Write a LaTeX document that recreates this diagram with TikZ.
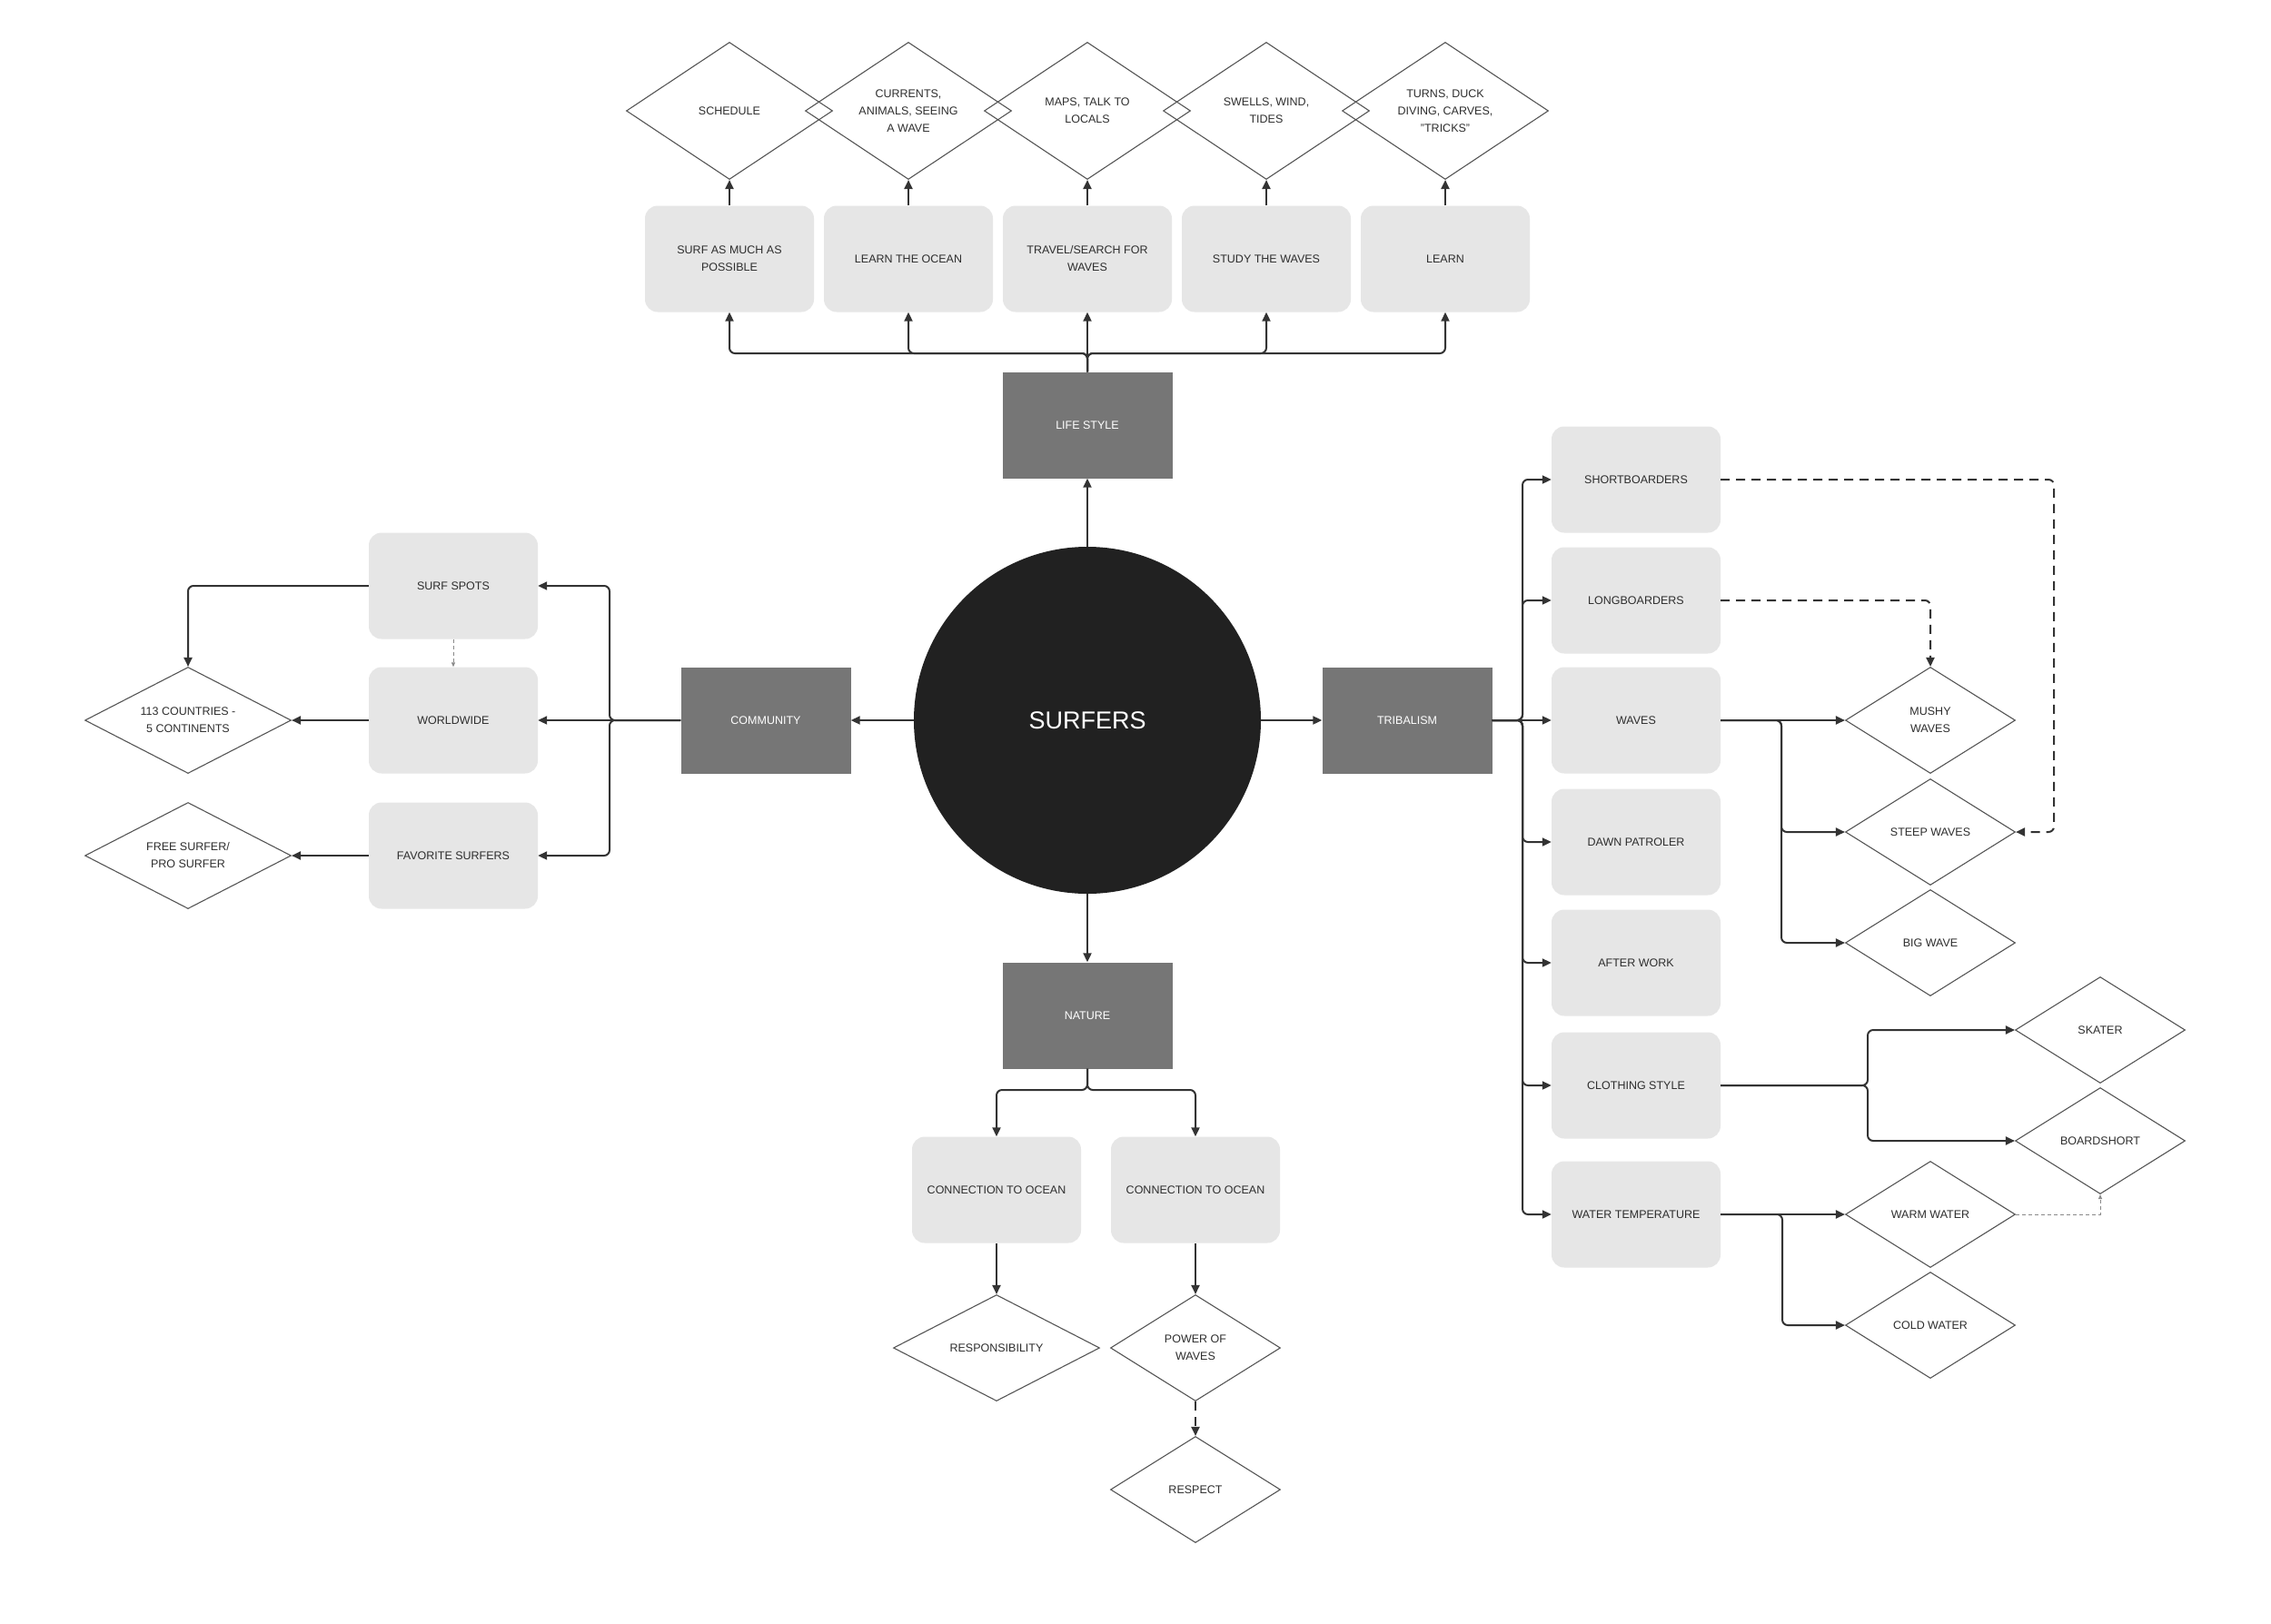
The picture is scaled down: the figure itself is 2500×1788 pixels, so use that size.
\documentclass[tikz,border=0pt]{standalone}
\usepackage{fontspec}
\setmainfont{Liberation Sans}
\usetikzlibrary{shapes.geometric,arrows.meta}
\definecolor{boxgray}{HTML}{E6E6E6}
\definecolor{darkbox}{HTML}{767676}
\definecolor{corefill}{HTML}{212121}
\definecolor{lc}{HTML}{333333}
\definecolor{txt}{HTML}{2E2E2E}
\definecolor{dl}{HTML}{555555}
\definecolor{thg}{HTML}{8A8A8A}
\newcommand{\lblfont}{\fontsize{12.5}{19}\selectfont}
\tikzset{
  lbox/.style={rectangle, rounded corners=14pt, fill=boxgray, minimum width=186pt, minimum height=117pt, inner sep=2pt, align=center, font=\lblfont, text=txt},
  dbox/.style={rectangle, fill=darkbox, minimum width=187pt, minimum height=117pt, inner sep=2pt, align=center, font=\lblfont, text=white},
  dia/.style={diamond, draw=dl, line width=1.1pt, aspect=1.6, minimum width=187pt, minimum height=117pt, inner sep=0pt, align=center, font=\lblfont, text=txt},
  widedia/.style={dia, aspect=1.94, minimum width=227pt},
  topdia/.style={dia, aspect=1.5, minimum width=227pt, minimum height=151pt},
  corenode/.style={circle, fill=corefill, minimum size=382pt, inner sep=0pt, text=white, font=\fontsize{27}{32}\selectfont},
  conn/.style={draw=lc, line width=2pt, rounded corners=6pt, -{Triangle[length=10pt,width=9pt]}},
  dconn/.style={conn, dash pattern=on 10pt off 7pt},
  thinconn/.style={draw=thg, line width=1pt, dash pattern=on 4pt off 3pt, -{Triangle[length=5pt,width=4pt]}},
}
\begin{document}
\begin{tikzpicture}[x=1pt,y=-1pt]
\path[use as bounding box, fill=white] (0,0) rectangle (2500,1788);

% center and main categories
\node[corenode] (sf) at (1197,793) {SURFERS};
\node[dbox] (ls) at (1197,468) {LIFE STYLE};
\node[dbox] (com) at (843,793) {COMMUNITY};
\node[dbox] (tr) at (1549,793) {TRIBALISM};
\node[dbox] (nat) at (1197,1118) {NATURE};

% top
\node[lbox] (t1) at (803,285) {SURF AS MUCH AS\\POSSIBLE};
\node[lbox] (t2) at (1000,285) {LEARN THE OCEAN};
\node[lbox] (t3) at (1197,285) {TRAVEL/SEARCH FOR\\WAVES};
\node[lbox] (t4) at (1394,285) {STUDY THE WAVES};
\node[lbox] (t5) at (1591,285) {LEARN};
\node[topdia] (d1) at (803,122) {SCHEDULE};
\node[topdia] (d2) at (1000,122) {CURRENTS,\\ANIMALS, SEEING\\A WAVE};
\node[topdia] (d3) at (1197,122) {MAPS, TALK TO\\LOCALS};
\node[topdia] (d4) at (1394,122) {SWELLS, WIND,\\TIDES};
\node[topdia] (d5) at (1591,122) {TURNS, DUCK\\DIVING, CARVES,\\"TRICKS"};

% left
\node[lbox] (ss) at (499,645) {SURF SPOTS};
\node[lbox] (ww) at (499,793) {WORLDWIDE};
\node[lbox] (fs) at (499,942) {FAVORITE SURFERS};
\node[widedia] (c113) at (207,793) {113 COUNTRIES -\\5 CONTINENTS};
\node[widedia] (fp) at (207,942) {FREE SURFER/\\PRO SURFER};

% right
\node[lbox] (sb) at (1801,528) {SHORTBOARDERS};
\node[lbox] (lb) at (1801,661) {LONGBOARDERS};
\node[lbox] (wv) at (1801,793) {WAVES};
\node[lbox] (dp) at (1801,927) {DAWN PATROLER};
\node[lbox] (aw) at (1801,1060) {AFTER WORK};
\node[lbox] (cs) at (1801,1195) {CLOTHING STYLE};
\node[lbox] (wt) at (1801,1337) {WATER TEMPERATURE};
\node[dia] (mw) at (2125,793) {MUSHY\\WAVES};
\node[dia] (sw) at (2125,916) {STEEP WAVES};
\node[dia] (bw) at (2125,1038) {BIG WAVE};
\node[dia] (sk) at (2312,1134) {SKATER};
\node[dia] (bs) at (2312,1256) {BOARDSHORT};
\node[dia] (wm) at (2125,1337) {WARM WATER};
\node[dia] (cw) at (2125,1459) {COLD WATER};

% bottom
\node[lbox] (co1) at (1097,1310) {CONNECTION TO OCEAN};
\node[lbox] (co2) at (1316,1310) {CONNECTION TO OCEAN};
\node[widedia] (rp) at (1097,1484) {RESPONSIBILITY};
\node[dia] (pw) at (1316,1484) {POWER OF\\WAVES};
\node[dia] (re) at (1316,1640) {RESPECT};

% junction coordinates
\coordinate (lsbus) at (1197,389);
\coordinate (cj) at (671,793);
\coordinate (tj) at (1676,793);
\coordinate (wj) at (1961,793);
\coordinate (cj2) at (2056,1195);
\coordinate (wj2) at (1962,1337);
\coordinate (nj) at (1197,1200);

% center connectors
\draw[conn] (sf.north) -- (ls.south);
\draw[conn] (sf.east) -- (tr.west);
\draw[conn] (sf.west) -- (com.east);
\draw[conn] (sf.south) -- (nat.north);

% top connectors
\foreach \b in {t1,t2,t4,t5} \draw[conn] (ls.north) -- (lsbus) -| (\b.south);
\draw[conn] (ls.north) -- (t3.south);
\foreach \i in {1,...,5} \draw[conn] (t\i.north) -- (d\i.south);

% left connectors
\draw[conn] (com.west) -- (cj) |- (ss.east);
\draw[conn] (com.west) -- (ww.east);
\draw[conn] (com.west) -- (cj) |- (fs.east);
\draw[conn] (ss.west) -| (c113.north);
\draw[conn] (ww.west) -- (c113.east);
\draw[conn] (fs.west) -- (fp.east);
\draw[thinconn] (ss.south) -- (ww.north);

% right connectors
\foreach \b in {sb,lb,dp,aw,cs,wt} \draw[conn] (tr.east) -- (tj) |- (\b.west);
\draw[conn] (tr.east) -- (wv.west);
\draw[conn] (wv.east) -- (mw.west);
\draw[conn] (wv.east) -- (wj) |- (sw.west);
\draw[conn] (wv.east) -- (wj) |- (bw.west);
\draw[conn] (cs.east) -- (cj2) |- (sk.west);
\draw[conn] (cs.east) -- (cj2) |- (bs.west);
\draw[conn] (wt.east) -- (wm.west);
\draw[conn] (wt.east) -- (wj2) |- (cw.west);
\draw[dconn] (sb.east) -| ([xshift=42pt]sw.east) -- (sw.east);
\draw[dconn] (lb.east) -| (mw.north);
\draw[thinconn] (wm.east) -| (bs.south);

% bottom connectors
\draw[conn] (nat.south) -- (nj) -| (co1.north);
\draw[conn] (nat.south) -- (nj) -| (co2.north);
\draw[conn] (co1.south) -- (rp.north);
\draw[conn] (co2.south) -- (pw.north);
\draw[dconn] (pw.south) -- (re.north);
\end{tikzpicture}
\end{document}
